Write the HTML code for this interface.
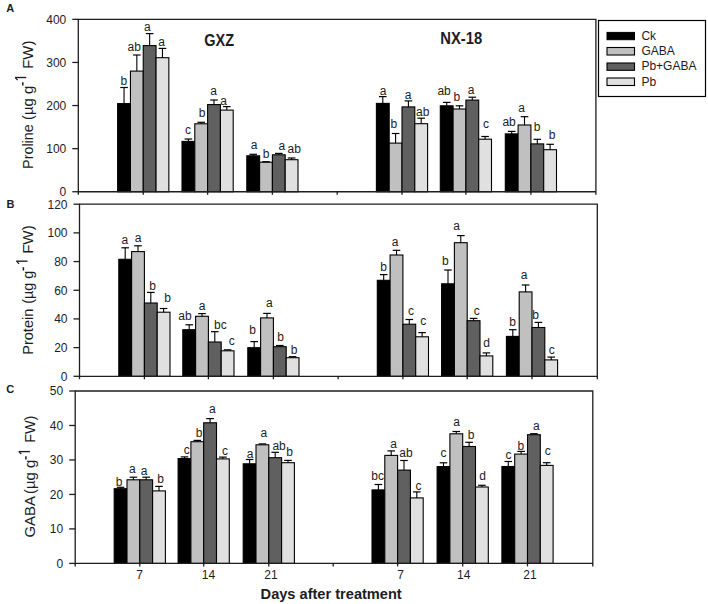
<!DOCTYPE html>
<html><head><meta charset="utf-8"><style>
html,body{margin:0;padding:0;background:#fff;}
svg{display:block;}
text{font-family:"Liberation Sans",sans-serif;fill:#1c1c24;}
.l{font-size:12px;text-anchor:middle;}
.t{font-size:12px;}
.b{font-weight:bold;}
</style></head><body>
<svg width="708" height="604" viewBox="0 0 708 604">
<rect width="708" height="604" fill="#fff"/>
<rect x="117.65" y="103.6" width="12.8" height="88.15" fill="#000000" stroke="#000" stroke-width="1.1"/>
<line x1="124.05" y1="103.6" x2="124.05" y2="87.5" stroke="#000" stroke-width="1.1"/>
<line x1="120.25" y1="87.5" x2="127.85" y2="87.5" stroke="#000" stroke-width="1.2"/>
<text x="123.9" y="85.4" class="l">b</text>
<rect x="130.45" y="71.1" width="12.8" height="120.65" fill="#c0c0c0" stroke="#000" stroke-width="1.1"/>
<line x1="136.85" y1="71.1" x2="136.85" y2="55" stroke="#000" stroke-width="1.1"/>
<line x1="133.05" y1="55" x2="140.65" y2="55" stroke="#000" stroke-width="1.2"/>
<text x="134.3" y="51.4" class="l">ab</text>
<rect x="143.25" y="45.6" width="12.8" height="146.15" fill="#606060" stroke="#000" stroke-width="1.1"/>
<line x1="149.65" y1="45.6" x2="149.65" y2="33.6" stroke="#000" stroke-width="1.1"/>
<line x1="145.85" y1="33.6" x2="153.45" y2="33.6" stroke="#000" stroke-width="1.2"/>
<text x="147.4" y="31.1" class="l">a</text>
<rect x="156.05" y="57.7" width="12.8" height="134.05" fill="#e0e0e0" stroke="#000" stroke-width="1.1"/>
<line x1="162.45" y1="57.7" x2="162.45" y2="48.4" stroke="#000" stroke-width="1.1"/>
<line x1="158.65" y1="48.4" x2="166.25" y2="48.4" stroke="#000" stroke-width="1.2"/>
<text x="161.6" y="46.2" class="l">a</text>
<rect x="182" y="141.4" width="12.8" height="50.35" fill="#000000" stroke="#000" stroke-width="1.1"/>
<line x1="188.4" y1="141.4" x2="188.4" y2="139" stroke="#000" stroke-width="1.1"/>
<line x1="184.6" y1="139" x2="192.2" y2="139" stroke="#000" stroke-width="1.2"/>
<text x="187.9" y="134.3" class="l">c</text>
<rect x="194.8" y="123.8" width="12.8" height="67.95" fill="#c0c0c0" stroke="#000" stroke-width="1.1"/>
<line x1="201.2" y1="123.8" x2="201.2" y2="122.3" stroke="#000" stroke-width="1.1"/>
<line x1="197.4" y1="122.3" x2="205" y2="122.3" stroke="#000" stroke-width="1.2"/>
<text x="202" y="117.4" class="l">b</text>
<rect x="207.6" y="104.6" width="12.8" height="87.15" fill="#606060" stroke="#000" stroke-width="1.1"/>
<line x1="214" y1="104.6" x2="214" y2="100" stroke="#000" stroke-width="1.1"/>
<line x1="210.2" y1="100" x2="217.8" y2="100" stroke="#000" stroke-width="1.2"/>
<text x="213.5" y="94.7" class="l">a</text>
<rect x="220.4" y="110.1" width="12.8" height="81.65" fill="#e0e0e0" stroke="#000" stroke-width="1.1"/>
<line x1="226.8" y1="110.1" x2="226.8" y2="106.6" stroke="#000" stroke-width="1.1"/>
<line x1="223" y1="106.6" x2="230.6" y2="106.6" stroke="#000" stroke-width="1.2"/>
<text x="223.5" y="104.6" class="l">a</text>
<rect x="246.8" y="155.8" width="12.8" height="35.95" fill="#000000" stroke="#000" stroke-width="1.1"/>
<line x1="253.2" y1="155.8" x2="253.2" y2="154.3" stroke="#000" stroke-width="1.1"/>
<line x1="249.4" y1="154.3" x2="257" y2="154.3" stroke="#000" stroke-width="1.2"/>
<text x="254.2" y="149.2" class="l">a</text>
<rect x="259.6" y="162.2" width="12.8" height="29.55" fill="#c0c0c0" stroke="#000" stroke-width="1.1"/>
<line x1="262.2" y1="161.7" x2="269.8" y2="161.7" stroke="#000" stroke-width="1.2"/>
<text x="266.2" y="157.9" class="l">b</text>
<rect x="272.4" y="154.8" width="12.8" height="36.95" fill="#606060" stroke="#000" stroke-width="1.1"/>
<line x1="278.8" y1="154.8" x2="278.8" y2="153.4" stroke="#000" stroke-width="1.1"/>
<line x1="275" y1="153.4" x2="282.6" y2="153.4" stroke="#000" stroke-width="1.2"/>
<text x="281.8" y="150.1" class="l">a</text>
<rect x="285.2" y="159.7" width="12.8" height="32.05" fill="#e0e0e0" stroke="#000" stroke-width="1.1"/>
<line x1="291.6" y1="159.7" x2="291.6" y2="158" stroke="#000" stroke-width="1.1"/>
<line x1="287.8" y1="158" x2="295.4" y2="158" stroke="#000" stroke-width="1.2"/>
<text x="294.2" y="152.8" class="l">ab</text>
<rect x="376.4" y="103.4" width="12.8" height="88.35" fill="#000000" stroke="#000" stroke-width="1.1"/>
<line x1="382.8" y1="103.4" x2="382.8" y2="96.6" stroke="#000" stroke-width="1.1"/>
<line x1="379" y1="96.6" x2="386.6" y2="96.6" stroke="#000" stroke-width="1.2"/>
<text x="383.1" y="95.3" class="l">a</text>
<rect x="389.2" y="143.1" width="12.8" height="48.65" fill="#c0c0c0" stroke="#000" stroke-width="1.1"/>
<line x1="395.6" y1="143.1" x2="395.6" y2="133.5" stroke="#000" stroke-width="1.1"/>
<line x1="391.8" y1="133.5" x2="399.4" y2="133.5" stroke="#000" stroke-width="1.2"/>
<text x="393.8" y="127.7" class="l">b</text>
<rect x="402" y="106.9" width="12.8" height="84.85" fill="#606060" stroke="#000" stroke-width="1.1"/>
<line x1="408.4" y1="106.9" x2="408.4" y2="100.9" stroke="#000" stroke-width="1.1"/>
<line x1="404.6" y1="100.9" x2="412.2" y2="100.9" stroke="#000" stroke-width="1.2"/>
<text x="408.2" y="98.8" class="l">a</text>
<rect x="414.8" y="123.7" width="12.8" height="68.05" fill="#e0e0e0" stroke="#000" stroke-width="1.1"/>
<line x1="421.2" y1="123.7" x2="421.2" y2="118.2" stroke="#000" stroke-width="1.1"/>
<line x1="417.4" y1="118.2" x2="425" y2="118.2" stroke="#000" stroke-width="1.2"/>
<text x="422.7" y="115.8" class="l">ab</text>
<rect x="440.3" y="105.8" width="12.8" height="85.95" fill="#000000" stroke="#000" stroke-width="1.1"/>
<line x1="446.7" y1="105.8" x2="446.7" y2="102.4" stroke="#000" stroke-width="1.1"/>
<line x1="442.9" y1="102.4" x2="450.5" y2="102.4" stroke="#000" stroke-width="1.2"/>
<text x="444.1" y="94.8" class="l">ab</text>
<rect x="453.1" y="109" width="12.8" height="82.75" fill="#c0c0c0" stroke="#000" stroke-width="1.1"/>
<line x1="459.5" y1="109" x2="459.5" y2="105.8" stroke="#000" stroke-width="1.1"/>
<line x1="455.7" y1="105.8" x2="463.3" y2="105.8" stroke="#000" stroke-width="1.2"/>
<text x="456.9" y="100.5" class="l">b</text>
<rect x="465.9" y="100.1" width="12.8" height="91.65" fill="#606060" stroke="#000" stroke-width="1.1"/>
<line x1="472.3" y1="100.1" x2="472.3" y2="97.2" stroke="#000" stroke-width="1.1"/>
<line x1="468.5" y1="97.2" x2="476.1" y2="97.2" stroke="#000" stroke-width="1.2"/>
<text x="471.1" y="94.3" class="l">a</text>
<rect x="478.7" y="139.2" width="12.8" height="52.55" fill="#e0e0e0" stroke="#000" stroke-width="1.1"/>
<line x1="485.1" y1="139.2" x2="485.1" y2="136.5" stroke="#000" stroke-width="1.1"/>
<line x1="481.3" y1="136.5" x2="488.9" y2="136.5" stroke="#000" stroke-width="1.2"/>
<text x="486.1" y="128.2" class="l">c</text>
<rect x="505.3" y="133.9" width="12.8" height="57.85" fill="#000000" stroke="#000" stroke-width="1.1"/>
<line x1="511.7" y1="133.9" x2="511.7" y2="131.4" stroke="#000" stroke-width="1.1"/>
<line x1="507.9" y1="131.4" x2="515.5" y2="131.4" stroke="#000" stroke-width="1.2"/>
<text x="509.1" y="126.4" class="l">ab</text>
<rect x="518.1" y="125" width="12.8" height="66.75" fill="#c0c0c0" stroke="#000" stroke-width="1.1"/>
<line x1="524.5" y1="125" x2="524.5" y2="116.7" stroke="#000" stroke-width="1.1"/>
<line x1="520.7" y1="116.7" x2="528.3" y2="116.7" stroke="#000" stroke-width="1.2"/>
<text x="521.5" y="112.1" class="l">a</text>
<rect x="530.9" y="143.9" width="12.8" height="47.85" fill="#606060" stroke="#000" stroke-width="1.1"/>
<line x1="537.3" y1="143.9" x2="537.3" y2="139.3" stroke="#000" stroke-width="1.1"/>
<line x1="533.5" y1="139.3" x2="541.1" y2="139.3" stroke="#000" stroke-width="1.2"/>
<text x="537.1" y="130.7" class="l">b</text>
<rect x="543.7" y="149.7" width="12.8" height="42.05" fill="#e0e0e0" stroke="#000" stroke-width="1.1"/>
<line x1="550.1" y1="149.7" x2="550.1" y2="144.3" stroke="#000" stroke-width="1.1"/>
<line x1="546.3" y1="144.3" x2="553.9" y2="144.3" stroke="#000" stroke-width="1.2"/>
<text x="552" y="138.7" class="l">b</text>
<path d="M78.3 194.75V19.35H595.9V194.75M78.3 191.75H595.9" fill="none" stroke="#1e1e1e" stroke-width="1.3"/>
<line x1="143.25" y1="191.75" x2="143.25" y2="194.75" stroke="#1e1e1e" stroke-width="1.3"/>
<line x1="207.6" y1="191.75" x2="207.6" y2="194.75" stroke="#1e1e1e" stroke-width="1.3"/>
<line x1="272.4" y1="191.75" x2="272.4" y2="194.75" stroke="#1e1e1e" stroke-width="1.3"/>
<line x1="337.2" y1="191.75" x2="337.2" y2="194.75" stroke="#1e1e1e" stroke-width="1.3"/>
<line x1="402" y1="191.75" x2="402" y2="194.75" stroke="#1e1e1e" stroke-width="1.3"/>
<line x1="465.9" y1="191.75" x2="465.9" y2="194.75" stroke="#1e1e1e" stroke-width="1.3"/>
<line x1="530.9" y1="191.75" x2="530.9" y2="194.75" stroke="#1e1e1e" stroke-width="1.3"/>
<line x1="72.3" y1="191.75" x2="78.3" y2="191.75" stroke="#1e1e1e" stroke-width="1.3"/>
<text x="66.3" y="196.05" class="t" text-anchor="end">0</text>
<line x1="72.3" y1="148.65" x2="78.3" y2="148.65" stroke="#1e1e1e" stroke-width="1.3"/>
<text x="66.3" y="152.95" class="t" text-anchor="end">100</text>
<line x1="72.3" y1="105.55" x2="78.3" y2="105.55" stroke="#1e1e1e" stroke-width="1.3"/>
<text x="66.3" y="109.85" class="t" text-anchor="end">200</text>
<line x1="72.3" y1="62.45" x2="78.3" y2="62.45" stroke="#1e1e1e" stroke-width="1.3"/>
<text x="66.3" y="66.75" class="t" text-anchor="end">300</text>
<line x1="72.3" y1="19.35" x2="78.3" y2="19.35" stroke="#1e1e1e" stroke-width="1.3"/>
<text x="66.3" y="23.65" class="t" text-anchor="end">400</text>
<rect x="118.8" y="259.3" width="12.8" height="117" fill="#000000" stroke="#000" stroke-width="1.1"/>
<line x1="125.2" y1="259.3" x2="125.2" y2="247.8" stroke="#000" stroke-width="1.1"/>
<line x1="121.4" y1="247.8" x2="129" y2="247.8" stroke="#000" stroke-width="1.2"/>
<text x="124.8" y="243.9" class="l">a</text>
<rect x="131.6" y="251.6" width="12.8" height="124.7" fill="#c0c0c0" stroke="#000" stroke-width="1.1"/>
<line x1="138" y1="251.6" x2="138" y2="245.8" stroke="#000" stroke-width="1.1"/>
<line x1="134.2" y1="245.8" x2="141.8" y2="245.8" stroke="#000" stroke-width="1.2"/>
<text x="138.2" y="242.1" class="l">a</text>
<rect x="144.4" y="303" width="12.8" height="73.3" fill="#606060" stroke="#000" stroke-width="1.1"/>
<line x1="150.8" y1="303" x2="150.8" y2="292.4" stroke="#000" stroke-width="1.1"/>
<line x1="147" y1="292.4" x2="154.6" y2="292.4" stroke="#000" stroke-width="1.2"/>
<text x="152.7" y="290" class="l">b</text>
<rect x="157.2" y="312.2" width="12.8" height="64.1" fill="#e0e0e0" stroke="#000" stroke-width="1.1"/>
<line x1="163.6" y1="312.2" x2="163.6" y2="308.5" stroke="#000" stroke-width="1.1"/>
<line x1="159.8" y1="308.5" x2="167.4" y2="308.5" stroke="#000" stroke-width="1.2"/>
<text x="167.7" y="301.9" class="l">b</text>
<rect x="182.8" y="329.7" width="12.8" height="46.6" fill="#000000" stroke="#000" stroke-width="1.1"/>
<line x1="189.2" y1="329.7" x2="189.2" y2="324.8" stroke="#000" stroke-width="1.1"/>
<line x1="185.4" y1="324.8" x2="193" y2="324.8" stroke="#000" stroke-width="1.2"/>
<text x="184.9" y="320" class="l">ab</text>
<rect x="195.6" y="316.3" width="12.8" height="60" fill="#c0c0c0" stroke="#000" stroke-width="1.1"/>
<line x1="202" y1="316.3" x2="202" y2="313.6" stroke="#000" stroke-width="1.1"/>
<line x1="198.2" y1="313.6" x2="205.8" y2="313.6" stroke="#000" stroke-width="1.2"/>
<text x="202" y="310.1" class="l">a</text>
<rect x="208.4" y="342" width="12.8" height="34.3" fill="#606060" stroke="#000" stroke-width="1.1"/>
<line x1="214.8" y1="342" x2="214.8" y2="331.7" stroke="#000" stroke-width="1.1"/>
<line x1="211" y1="331.7" x2="218.6" y2="331.7" stroke="#000" stroke-width="1.2"/>
<text x="220.3" y="328.9" class="l">bc</text>
<rect x="221.2" y="350.8" width="12.8" height="25.5" fill="#e0e0e0" stroke="#000" stroke-width="1.1"/>
<line x1="223.8" y1="349.8" x2="231.4" y2="349.8" stroke="#000" stroke-width="1.2"/>
<text x="231.7" y="345.1" class="l">c</text>
<rect x="247.8" y="347.7" width="12.8" height="28.6" fill="#000000" stroke="#000" stroke-width="1.1"/>
<line x1="254.2" y1="347.7" x2="254.2" y2="341.6" stroke="#000" stroke-width="1.1"/>
<line x1="250.4" y1="341.6" x2="258" y2="341.6" stroke="#000" stroke-width="1.2"/>
<text x="252.7" y="333.6" class="l">b</text>
<rect x="260.6" y="317.9" width="12.8" height="58.4" fill="#c0c0c0" stroke="#000" stroke-width="1.1"/>
<line x1="267" y1="317.9" x2="267" y2="313.4" stroke="#000" stroke-width="1.1"/>
<line x1="263.2" y1="313.4" x2="270.8" y2="313.4" stroke="#000" stroke-width="1.2"/>
<text x="269.3" y="307.3" class="l">a</text>
<rect x="273.4" y="346.7" width="12.8" height="29.6" fill="#606060" stroke="#000" stroke-width="1.1"/>
<line x1="279.8" y1="346.7" x2="279.8" y2="345.5" stroke="#000" stroke-width="1.1"/>
<line x1="276" y1="345.5" x2="283.6" y2="345.5" stroke="#000" stroke-width="1.2"/>
<text x="280.6" y="341.4" class="l">b</text>
<rect x="286.2" y="357.7" width="12.8" height="18.6" fill="#e0e0e0" stroke="#000" stroke-width="1.1"/>
<line x1="288.8" y1="356.7" x2="296.4" y2="356.7" stroke="#000" stroke-width="1.2"/>
<text x="294.2" y="353.5" class="l">b</text>
<rect x="377.3" y="280.3" width="12.8" height="96" fill="#000000" stroke="#000" stroke-width="1.1"/>
<line x1="383.7" y1="280.3" x2="383.7" y2="274.6" stroke="#000" stroke-width="1.1"/>
<line x1="379.9" y1="274.6" x2="387.5" y2="274.6" stroke="#000" stroke-width="1.2"/>
<text x="383.6" y="271.4" class="l">b</text>
<rect x="390.1" y="255" width="12.8" height="121.3" fill="#c0c0c0" stroke="#000" stroke-width="1.1"/>
<line x1="396.5" y1="255" x2="396.5" y2="250.3" stroke="#000" stroke-width="1.1"/>
<line x1="392.7" y1="250.3" x2="400.3" y2="250.3" stroke="#000" stroke-width="1.2"/>
<text x="395.2" y="245.5" class="l">a</text>
<rect x="402.9" y="324.2" width="12.8" height="52.1" fill="#606060" stroke="#000" stroke-width="1.1"/>
<line x1="409.3" y1="324.2" x2="409.3" y2="319.5" stroke="#000" stroke-width="1.1"/>
<line x1="405.5" y1="319.5" x2="413.1" y2="319.5" stroke="#000" stroke-width="1.2"/>
<text x="410.9" y="315" class="l">c</text>
<rect x="415.7" y="336.8" width="12.8" height="39.5" fill="#e0e0e0" stroke="#000" stroke-width="1.1"/>
<line x1="422.1" y1="336.8" x2="422.1" y2="332.6" stroke="#000" stroke-width="1.1"/>
<line x1="418.3" y1="332.6" x2="425.9" y2="332.6" stroke="#000" stroke-width="1.2"/>
<text x="423.3" y="325.4" class="l">c</text>
<rect x="441.6" y="283.8" width="12.8" height="92.5" fill="#000000" stroke="#000" stroke-width="1.1"/>
<line x1="448" y1="283.8" x2="448" y2="270" stroke="#000" stroke-width="1.1"/>
<line x1="444.2" y1="270" x2="451.8" y2="270" stroke="#000" stroke-width="1.2"/>
<text x="445.3" y="265.1" class="l">b</text>
<rect x="454.4" y="242.7" width="12.8" height="133.6" fill="#c0c0c0" stroke="#000" stroke-width="1.1"/>
<line x1="460.8" y1="242.7" x2="460.8" y2="235.6" stroke="#000" stroke-width="1.1"/>
<line x1="457" y1="235.6" x2="464.6" y2="235.6" stroke="#000" stroke-width="1.2"/>
<text x="456.6" y="229.8" class="l">a</text>
<rect x="467.2" y="320.7" width="12.8" height="55.6" fill="#606060" stroke="#000" stroke-width="1.1"/>
<line x1="473.6" y1="320.7" x2="473.6" y2="318.4" stroke="#000" stroke-width="1.1"/>
<line x1="469.8" y1="318.4" x2="477.4" y2="318.4" stroke="#000" stroke-width="1.2"/>
<text x="476.7" y="314.8" class="l">c</text>
<rect x="480" y="355.9" width="12.8" height="20.4" fill="#e0e0e0" stroke="#000" stroke-width="1.1"/>
<line x1="486.4" y1="355.9" x2="486.4" y2="352.9" stroke="#000" stroke-width="1.1"/>
<line x1="482.6" y1="352.9" x2="490.2" y2="352.9" stroke="#000" stroke-width="1.2"/>
<text x="486.5" y="346.6" class="l">d</text>
<rect x="506.4" y="336.4" width="12.8" height="39.9" fill="#000000" stroke="#000" stroke-width="1.1"/>
<line x1="512.8" y1="336.4" x2="512.8" y2="329.7" stroke="#000" stroke-width="1.1"/>
<line x1="509" y1="329.7" x2="516.6" y2="329.7" stroke="#000" stroke-width="1.2"/>
<text x="512.5" y="325.8" class="l">b</text>
<rect x="519.2" y="291.9" width="12.8" height="84.4" fill="#c0c0c0" stroke="#000" stroke-width="1.1"/>
<line x1="525.6" y1="291.9" x2="525.6" y2="285" stroke="#000" stroke-width="1.1"/>
<line x1="521.8" y1="285" x2="529.4" y2="285" stroke="#000" stroke-width="1.2"/>
<text x="524" y="278.8" class="l">a</text>
<rect x="532" y="327.5" width="12.8" height="48.8" fill="#606060" stroke="#000" stroke-width="1.1"/>
<line x1="538.4" y1="327.5" x2="538.4" y2="322.4" stroke="#000" stroke-width="1.1"/>
<line x1="534.6" y1="322.4" x2="542.2" y2="322.4" stroke="#000" stroke-width="1.2"/>
<text x="535.6" y="318.8" class="l">b</text>
<rect x="544.8" y="359.9" width="12.8" height="16.4" fill="#e0e0e0" stroke="#000" stroke-width="1.1"/>
<line x1="551.2" y1="359.9" x2="551.2" y2="357.1" stroke="#000" stroke-width="1.1"/>
<line x1="547.4" y1="357.1" x2="555" y2="357.1" stroke="#000" stroke-width="1.2"/>
<text x="551.8" y="354.1" class="l">c</text>
<path d="M79.5 379.3V204.2H597.3V379.3M79.5 376.3H597.3" fill="none" stroke="#1e1e1e" stroke-width="1.3"/>
<line x1="144.4" y1="376.3" x2="144.4" y2="379.3" stroke="#1e1e1e" stroke-width="1.3"/>
<line x1="208.4" y1="376.3" x2="208.4" y2="379.3" stroke="#1e1e1e" stroke-width="1.3"/>
<line x1="273.4" y1="376.3" x2="273.4" y2="379.3" stroke="#1e1e1e" stroke-width="1.3"/>
<line x1="338.15" y1="376.3" x2="338.15" y2="379.3" stroke="#1e1e1e" stroke-width="1.3"/>
<line x1="402.9" y1="376.3" x2="402.9" y2="379.3" stroke="#1e1e1e" stroke-width="1.3"/>
<line x1="467.2" y1="376.3" x2="467.2" y2="379.3" stroke="#1e1e1e" stroke-width="1.3"/>
<line x1="532" y1="376.3" x2="532" y2="379.3" stroke="#1e1e1e" stroke-width="1.3"/>
<line x1="73.5" y1="376.3" x2="79.5" y2="376.3" stroke="#1e1e1e" stroke-width="1.3"/>
<text x="67.5" y="380.6" class="t" text-anchor="end">0</text>
<line x1="73.5" y1="347.62" x2="79.5" y2="347.62" stroke="#1e1e1e" stroke-width="1.3"/>
<text x="67.5" y="351.92" class="t" text-anchor="end">20</text>
<line x1="73.5" y1="318.93" x2="79.5" y2="318.93" stroke="#1e1e1e" stroke-width="1.3"/>
<text x="67.5" y="323.23" class="t" text-anchor="end">40</text>
<line x1="73.5" y1="290.25" x2="79.5" y2="290.25" stroke="#1e1e1e" stroke-width="1.3"/>
<text x="67.5" y="294.55" class="t" text-anchor="end">60</text>
<line x1="73.5" y1="261.57" x2="79.5" y2="261.57" stroke="#1e1e1e" stroke-width="1.3"/>
<text x="67.5" y="265.87" class="t" text-anchor="end">80</text>
<line x1="73.5" y1="232.88" x2="79.5" y2="232.88" stroke="#1e1e1e" stroke-width="1.3"/>
<text x="67.5" y="237.18" class="t" text-anchor="end">100</text>
<line x1="73.5" y1="204.2" x2="79.5" y2="204.2" stroke="#1e1e1e" stroke-width="1.3"/>
<text x="67.5" y="208.5" class="t" text-anchor="end">120</text>
<rect x="114.2" y="488.7" width="12.8" height="74.7" fill="#000000" stroke="#000" stroke-width="1.1"/>
<line x1="120.6" y1="488.7" x2="120.6" y2="487.3" stroke="#000" stroke-width="1.1"/>
<line x1="116.8" y1="487.3" x2="124.4" y2="487.3" stroke="#000" stroke-width="1.2"/>
<text x="119.2" y="486.1" class="l">b</text>
<rect x="127" y="479.8" width="12.8" height="83.6" fill="#c0c0c0" stroke="#000" stroke-width="1.1"/>
<line x1="133.4" y1="479.8" x2="133.4" y2="477.2" stroke="#000" stroke-width="1.1"/>
<line x1="129.6" y1="477.2" x2="137.2" y2="477.2" stroke="#000" stroke-width="1.2"/>
<text x="132.4" y="473.4" class="l">a</text>
<rect x="139.8" y="479.8" width="12.8" height="83.6" fill="#606060" stroke="#000" stroke-width="1.1"/>
<line x1="146.2" y1="479.8" x2="146.2" y2="477.2" stroke="#000" stroke-width="1.1"/>
<line x1="142.4" y1="477.2" x2="150" y2="477.2" stroke="#000" stroke-width="1.2"/>
<text x="144" y="474.6" class="l">a</text>
<rect x="152.6" y="490.9" width="12.8" height="72.5" fill="#e0e0e0" stroke="#000" stroke-width="1.1"/>
<line x1="159" y1="490.9" x2="159" y2="486.4" stroke="#000" stroke-width="1.1"/>
<line x1="155.2" y1="486.4" x2="162.8" y2="486.4" stroke="#000" stroke-width="1.2"/>
<text x="160.6" y="483.3" class="l">b</text>
<rect x="178.1" y="458.6" width="12.8" height="104.8" fill="#000000" stroke="#000" stroke-width="1.1"/>
<line x1="184.5" y1="458.6" x2="184.5" y2="456.9" stroke="#000" stroke-width="1.1"/>
<line x1="180.7" y1="456.9" x2="188.3" y2="456.9" stroke="#000" stroke-width="1.2"/>
<text x="186.8" y="453.6" class="l">c</text>
<rect x="190.9" y="441.7" width="12.8" height="121.7" fill="#c0c0c0" stroke="#000" stroke-width="1.1"/>
<line x1="197.3" y1="441.7" x2="197.3" y2="440.4" stroke="#000" stroke-width="1.1"/>
<line x1="193.5" y1="440.4" x2="201.1" y2="440.4" stroke="#000" stroke-width="1.2"/>
<text x="199.2" y="436.6" class="l">b</text>
<rect x="203.7" y="422.8" width="12.8" height="140.6" fill="#606060" stroke="#000" stroke-width="1.1"/>
<line x1="210.1" y1="422.8" x2="210.1" y2="418.6" stroke="#000" stroke-width="1.1"/>
<line x1="206.3" y1="418.6" x2="213.9" y2="418.6" stroke="#000" stroke-width="1.2"/>
<text x="212.3" y="413.2" class="l">a</text>
<rect x="216.5" y="458.9" width="12.8" height="104.5" fill="#e0e0e0" stroke="#000" stroke-width="1.1"/>
<line x1="222.9" y1="458.9" x2="222.9" y2="457.1" stroke="#000" stroke-width="1.1"/>
<line x1="219.1" y1="457.1" x2="226.7" y2="457.1" stroke="#000" stroke-width="1.2"/>
<text x="224.9" y="455.2" class="l">c</text>
<rect x="243.2" y="463.8" width="12.8" height="99.6" fill="#000000" stroke="#000" stroke-width="1.1"/>
<line x1="249.6" y1="463.8" x2="249.6" y2="459.5" stroke="#000" stroke-width="1.1"/>
<line x1="245.8" y1="459.5" x2="253.4" y2="459.5" stroke="#000" stroke-width="1.2"/>
<text x="250.2" y="458" class="l">a</text>
<rect x="256" y="444.8" width="12.8" height="118.6" fill="#c0c0c0" stroke="#000" stroke-width="1.1"/>
<line x1="258.6" y1="443.9" x2="266.2" y2="443.9" stroke="#000" stroke-width="1.2"/>
<text x="263.9" y="436.9" class="l">a</text>
<rect x="268.8" y="457.7" width="12.8" height="105.7" fill="#606060" stroke="#000" stroke-width="1.1"/>
<line x1="275.2" y1="457.7" x2="275.2" y2="452.3" stroke="#000" stroke-width="1.1"/>
<line x1="271.4" y1="452.3" x2="279" y2="452.3" stroke="#000" stroke-width="1.2"/>
<text x="279.1" y="450.2" class="l">ab</text>
<rect x="281.6" y="462.7" width="12.8" height="100.7" fill="#e0e0e0" stroke="#000" stroke-width="1.1"/>
<line x1="288" y1="462.7" x2="288" y2="460.4" stroke="#000" stroke-width="1.1"/>
<line x1="284.2" y1="460.4" x2="291.8" y2="460.4" stroke="#000" stroke-width="1.2"/>
<text x="289.6" y="456.2" class="l">b</text>
<rect x="372" y="489.9" width="12.8" height="73.5" fill="#000000" stroke="#000" stroke-width="1.1"/>
<line x1="378.4" y1="489.9" x2="378.4" y2="484.5" stroke="#000" stroke-width="1.1"/>
<line x1="374.6" y1="484.5" x2="382.2" y2="484.5" stroke="#000" stroke-width="1.2"/>
<text x="377.7" y="479.9" class="l">bc</text>
<rect x="384.8" y="455.4" width="12.8" height="108" fill="#c0c0c0" stroke="#000" stroke-width="1.1"/>
<line x1="391.2" y1="455.4" x2="391.2" y2="450.9" stroke="#000" stroke-width="1.1"/>
<line x1="387.4" y1="450.9" x2="395" y2="450.9" stroke="#000" stroke-width="1.2"/>
<text x="393.6" y="448.2" class="l">a</text>
<rect x="397.6" y="470.1" width="12.8" height="93.3" fill="#606060" stroke="#000" stroke-width="1.1"/>
<line x1="404" y1="470.1" x2="404" y2="460.5" stroke="#000" stroke-width="1.1"/>
<line x1="400.2" y1="460.5" x2="407.8" y2="460.5" stroke="#000" stroke-width="1.2"/>
<text x="406" y="456.7" class="l">ab</text>
<rect x="410.4" y="497.9" width="12.8" height="65.5" fill="#e0e0e0" stroke="#000" stroke-width="1.1"/>
<line x1="416.8" y1="497.9" x2="416.8" y2="491.9" stroke="#000" stroke-width="1.1"/>
<line x1="413" y1="491.9" x2="420.6" y2="491.9" stroke="#000" stroke-width="1.2"/>
<text x="418.4" y="490.2" class="l">c</text>
<rect x="437.1" y="466.6" width="12.8" height="96.8" fill="#000000" stroke="#000" stroke-width="1.1"/>
<line x1="443.5" y1="466.6" x2="443.5" y2="462.8" stroke="#000" stroke-width="1.1"/>
<line x1="439.7" y1="462.8" x2="447.3" y2="462.8" stroke="#000" stroke-width="1.2"/>
<text x="443.4" y="456.8" class="l">c</text>
<rect x="449.9" y="433.8" width="12.8" height="129.6" fill="#c0c0c0" stroke="#000" stroke-width="1.1"/>
<line x1="456.3" y1="433.8" x2="456.3" y2="431.5" stroke="#000" stroke-width="1.1"/>
<line x1="452.5" y1="431.5" x2="460.1" y2="431.5" stroke="#000" stroke-width="1.2"/>
<text x="456.5" y="426.3" class="l">a</text>
<rect x="462.7" y="446.5" width="12.8" height="116.9" fill="#606060" stroke="#000" stroke-width="1.1"/>
<line x1="469.1" y1="446.5" x2="469.1" y2="442.3" stroke="#000" stroke-width="1.1"/>
<line x1="465.3" y1="442.3" x2="472.9" y2="442.3" stroke="#000" stroke-width="1.2"/>
<text x="471" y="439.1" class="l">b</text>
<rect x="475.5" y="487" width="12.8" height="76.4" fill="#e0e0e0" stroke="#000" stroke-width="1.1"/>
<line x1="481.9" y1="487" x2="481.9" y2="485.3" stroke="#000" stroke-width="1.1"/>
<line x1="478.1" y1="485.3" x2="485.7" y2="485.3" stroke="#000" stroke-width="1.2"/>
<text x="482.5" y="479.5" class="l">d</text>
<rect x="501.9" y="466.5" width="12.8" height="96.9" fill="#000000" stroke="#000" stroke-width="1.1"/>
<line x1="508.3" y1="466.5" x2="508.3" y2="461.5" stroke="#000" stroke-width="1.1"/>
<line x1="504.5" y1="461.5" x2="512.1" y2="461.5" stroke="#000" stroke-width="1.2"/>
<text x="508.5" y="458.7" class="l">c</text>
<rect x="514.7" y="454.1" width="12.8" height="109.3" fill="#c0c0c0" stroke="#000" stroke-width="1.1"/>
<line x1="521.1" y1="454.1" x2="521.1" y2="451.4" stroke="#000" stroke-width="1.1"/>
<line x1="517.3" y1="451.4" x2="524.9" y2="451.4" stroke="#000" stroke-width="1.2"/>
<text x="520.8" y="449.8" class="l">b</text>
<rect x="527.5" y="434.7" width="12.8" height="128.7" fill="#606060" stroke="#000" stroke-width="1.1"/>
<line x1="530.1" y1="433.7" x2="537.7" y2="433.7" stroke="#000" stroke-width="1.2"/>
<text x="536.4" y="430.2" class="l">a</text>
<rect x="540.3" y="465.4" width="12.8" height="98" fill="#e0e0e0" stroke="#000" stroke-width="1.1"/>
<line x1="546.7" y1="465.4" x2="546.7" y2="462.7" stroke="#000" stroke-width="1.1"/>
<line x1="542.9" y1="462.7" x2="550.5" y2="462.7" stroke="#000" stroke-width="1.2"/>
<text x="547.7" y="454.9" class="l">c</text>
<path d="M75.2 566.4V391H592.8V566.4M75.2 563.4H592.8" fill="none" stroke="#1e1e1e" stroke-width="1.3"/>
<line x1="139.8" y1="563.4" x2="139.8" y2="566.4" stroke="#1e1e1e" stroke-width="1.3"/>
<line x1="203.7" y1="563.4" x2="203.7" y2="566.4" stroke="#1e1e1e" stroke-width="1.3"/>
<line x1="268.8" y1="563.4" x2="268.8" y2="566.4" stroke="#1e1e1e" stroke-width="1.3"/>
<line x1="333.2" y1="563.4" x2="333.2" y2="566.4" stroke="#1e1e1e" stroke-width="1.3"/>
<line x1="397.6" y1="563.4" x2="397.6" y2="566.4" stroke="#1e1e1e" stroke-width="1.3"/>
<line x1="462.7" y1="563.4" x2="462.7" y2="566.4" stroke="#1e1e1e" stroke-width="1.3"/>
<line x1="527.5" y1="563.4" x2="527.5" y2="566.4" stroke="#1e1e1e" stroke-width="1.3"/>
<line x1="69.2" y1="563.4" x2="75.2" y2="563.4" stroke="#1e1e1e" stroke-width="1.3"/>
<text x="63.2" y="567.7" class="t" text-anchor="end">0</text>
<line x1="69.2" y1="528.92" x2="75.2" y2="528.92" stroke="#1e1e1e" stroke-width="1.3"/>
<text x="63.2" y="533.22" class="t" text-anchor="end">10</text>
<line x1="69.2" y1="494.44" x2="75.2" y2="494.44" stroke="#1e1e1e" stroke-width="1.3"/>
<text x="63.2" y="498.74" class="t" text-anchor="end">20</text>
<line x1="69.2" y1="459.96" x2="75.2" y2="459.96" stroke="#1e1e1e" stroke-width="1.3"/>
<text x="63.2" y="464.26" class="t" text-anchor="end">30</text>
<line x1="69.2" y1="425.48" x2="75.2" y2="425.48" stroke="#1e1e1e" stroke-width="1.3"/>
<text x="63.2" y="429.78" class="t" text-anchor="end">40</text>
<line x1="69.2" y1="391" x2="75.2" y2="391" stroke="#1e1e1e" stroke-width="1.3"/>
<text x="63.2" y="395.3" class="t" text-anchor="end">50</text>
<text x="6.25" y="11.6" class="b" style="font-size:11px">A</text>
<text x="6.45" y="207.7" class="b" style="font-size:11px">B</text>
<text x="6.3" y="392.8" class="b" style="font-size:11px">C</text>
<text transform="translate(204.2,45.8) scale(0.88,1)" class="b" style="font-size:16.5px">GXZ</text>
<text transform="translate(440.3,44.0) scale(0.925,1)" class="b" style="font-size:16px">NX-18</text>
<text transform="translate(33,168.9) rotate(-90) scale(0.956,1)" style="font-size:15px">Proline</text>
<text transform="translate(33,119.89) rotate(-90) scale(0.988,1)" style="font-size:15px">(µg g</text>
<text transform="translate(33,68.85) rotate(-90) scale(0.996,1)" style="font-size:15px">FW)</text>
<path d="M22.8 85.5V82.2" stroke="#1c1c24" stroke-width="1.5" fill="none"/>
<path d="M15 77.5H26.2" stroke="#1c1c24" stroke-width="1.35" fill="none"/><path d="M15.3 77.5L17.6 80.1" stroke="#1c1c24" stroke-width="1.25" fill="none"/>
<text transform="translate(32.8,354.71) rotate(-90) scale(0.968,1)" style="font-size:15px">Protein</text>
<text transform="translate(32.8,303.65) rotate(-90) scale(0.951,1)" style="font-size:15px">(µg g</text>
<text transform="translate(32.8,253.86) rotate(-90) scale(1.008,1)" style="font-size:15px">FW)</text>
<path d="M23.4 270.5V267.2" stroke="#1c1c24" stroke-width="1.5" fill="none"/>
<path d="M16.3 261.2H27.5" stroke="#1c1c24" stroke-width="1.35" fill="none"/><path d="M16.6 261.2L18.9 263.8" stroke="#1c1c24" stroke-width="1.25" fill="none"/>
<text transform="translate(35.1,537.55) rotate(-90) scale(0.994,1)" style="font-size:15px">GABA</text>
<text transform="translate(35.1,493.89) rotate(-90) scale(0.988,1)" style="font-size:15px">(µg g</text>
<text transform="translate(35.1,442.8) rotate(-90) scale(0.962,1)" style="font-size:15px">FW)</text>
<path d="M25.9 459.5V456.2" stroke="#1c1c24" stroke-width="1.5" fill="none"/>
<path d="M18.7 451.6H29.9" stroke="#1c1c24" stroke-width="1.35" fill="none"/><path d="M19 451.6L21.3 454.2" stroke="#1c1c24" stroke-width="1.25" fill="none"/>
<rect x="598.5" y="20.5" width="107" height="76" fill="#fff" stroke="#000" stroke-width="1.2"/>
<rect x="607" y="32.4" width="27.5" height="7.3" fill="#000" stroke="#000" stroke-width="1"/>
<rect x="607" y="47.5" width="27.5" height="7.5" fill="#c0c0c0" stroke="#000" stroke-width="1.1"/>
<rect x="607" y="63" width="27.5" height="7.3" fill="#606060" stroke="#000" stroke-width="1.1"/>
<rect x="607" y="78" width="27.5" height="7.5" fill="#e0e0e0" stroke="#000" stroke-width="1.1"/>
<text x="641.4" y="39.8" class="t">Ck</text>
<text x="641.4" y="54.5" class="t">GABA</text>
<text x="641.4" y="70" class="t">Pb+GABA</text>
<text x="641.4" y="85.5" class="t">Pb</text>
<text x="139.6" y="578.6" class="t" text-anchor="middle">7</text>
<text x="208.4" y="578.6" class="t" text-anchor="middle">14</text>
<text x="270.9" y="578.6" class="t" text-anchor="middle">21</text>
<text x="400.6" y="578.6" class="t" text-anchor="middle">7</text>
<text x="463.7" y="578.6" class="t" text-anchor="middle">14</text>
<text x="530" y="578.6" class="t" text-anchor="middle">21</text>
<text x="260.6" y="599.2" class="b" style="font-size:14.6px">Days after treatment</text>
</svg>
</body></html>
